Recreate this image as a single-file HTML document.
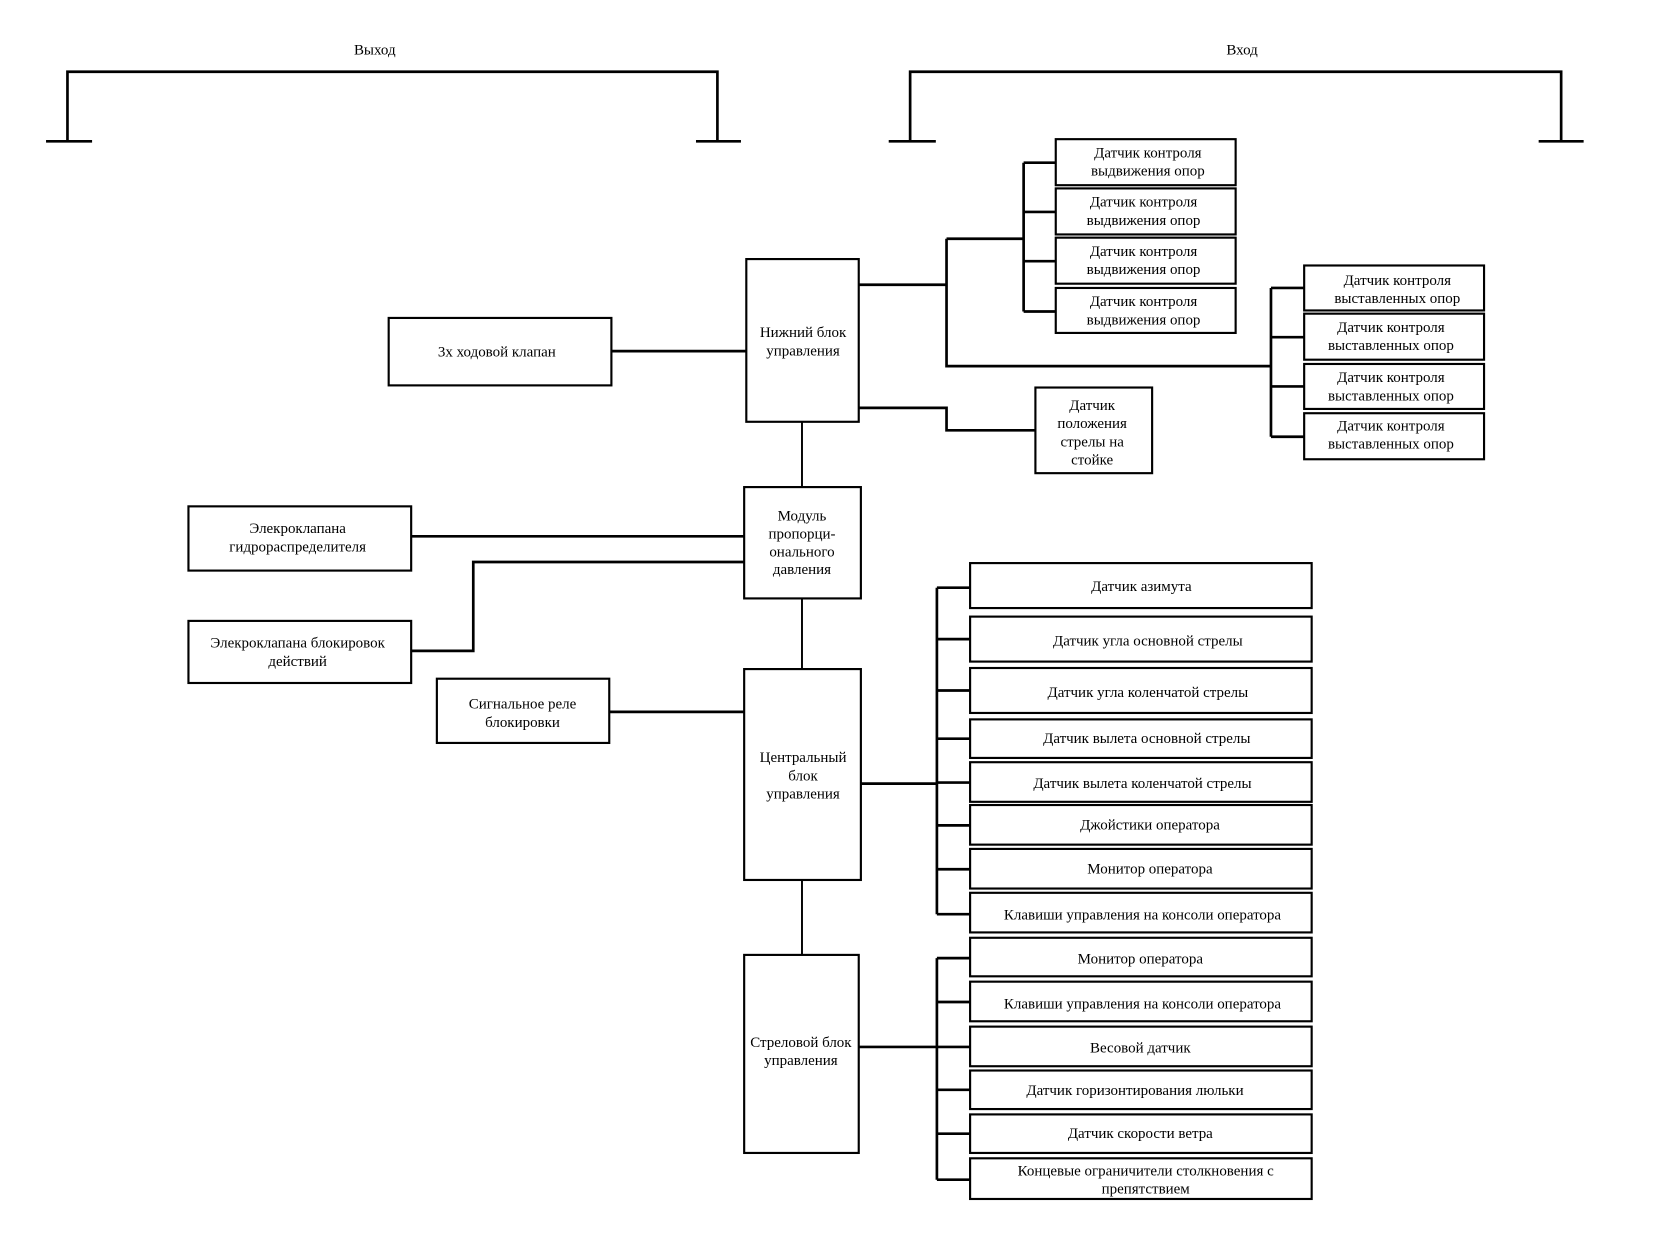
<!DOCTYPE html>
<html><head><meta charset="utf-8"><style>
html,body{margin:0;padding:0;background:#fff;}
svg{display:block;}
text{font-family:"Liberation Serif","Noto Serif CJK SC",serif;font-size:14px;fill:#000;text-anchor:middle;}
</style></head><body>
<svg width="1680" height="1260" viewBox="0 0 1569 1177" preserveAspectRatio="none" xmlns="http://www.w3.org/2000/svg">
<rect width="1569" height="1177" fill="#fff"/>
<g stroke="#000" fill="none" stroke-width="2.5">
<path d="M63 132 V67 H670 V132"/>
<path d="M43 132 H86 M650 132 H692"/>
<path d="M850 132 V67 H1458 V132"/>
<path d="M830 132 H874 M1437 132 H1479"/>
</g>
<text x="350" y="51">Выход</text>
<text x="1160" y="51">Вход</text>
<g stroke="#000" fill="#fff" stroke-width="2">
<rect x="986" y="130" width="168" height="43"/>
<rect x="986" y="176" width="168" height="43"/>
<rect x="986" y="222" width="168" height="43"/>
<rect x="986" y="269" width="168" height="42"/>
<rect x="1218" y="248" width="168" height="42"/>
<rect x="1218" y="293" width="168" height="43"/>
<rect x="1218" y="340" width="168" height="42"/>
<rect x="1218" y="386" width="168" height="43"/>
<rect x="967" y="362" width="109" height="80"/>
<rect x="697" y="242" width="105" height="152"/>
<rect x="363" y="297" width="208" height="63"/>
<rect x="695" y="455" width="109" height="104"/>
<rect x="176" y="473" width="208" height="60"/>
<rect x="176" y="580" width="208" height="58"/>
<rect x="408" y="634" width="161" height="60"/>
<rect x="695" y="625" width="109" height="197"/>
<rect x="695" y="892" width="107" height="185"/>
<rect x="906" y="526" width="319" height="42"/>
<rect x="906" y="576" width="319" height="42"/>
<rect x="906" y="624" width="319" height="42"/>
<rect x="906" y="672" width="319" height="36"/>
<rect x="906" y="712" width="319" height="37"/>
<rect x="906" y="752" width="319" height="37"/>
<rect x="906" y="793" width="319" height="37"/>
<rect x="906" y="834" width="319" height="37"/>
<rect x="906" y="876" width="319" height="36"/>
<rect x="906" y="917" width="319" height="37"/>
<rect x="906" y="959" width="319" height="37"/>
<rect x="906" y="1000" width="319" height="36"/>
<rect x="906" y="1041" width="319" height="36"/>
<rect x="906" y="1082" width="319" height="38"/>
</g>
<g stroke="#000" fill="none" stroke-width="2.5">
<path d="M956 152 V291 M956 152 H986 M956 198 H986 M956 244 H986 M956 291 H986"/>
<path d="M802 266 H884 M884 223 V342 H1187 M884 223 H956"/>
<path d="M1187 269 V408 M1187 269 H1218 M1187 315 H1218 M1187 361 H1218 M1187 408 H1218"/>
<path d="M802 381 H884 V402 H967"/>
<path d="M571 328 H697"/>
<path d="M384 501 H695"/>
<path d="M384 608 H442 V525 H695"/>
<path d="M569 665 H695"/>
<path d="M804 732 H875"/>
<path d="M802 978 H875"/>
<path d="M875 549 V854 M875 549 H906 M875 597 H906 M875 645 H906 M875 690 H906 M875 731 H906 M875 771 H906 M875 812 H906 M875 854 H906"/>
<path d="M875 895 V1102 M875 895 H906 M875 936 H906 M875 978 H906 M875 1018 H906 M875 1059 H906 M875 1102 H906"/>
</g>
<g stroke="#000" stroke-width="1.8">
<path d="M749 394 V455 M749 559 V625 M749 822 V892"/>
</g>
<text x="1072" y="147">Датчик контроля</text><text x="1072" y="164">выдвижения опор</text>
<text x="1068" y="193">Датчик контроля</text><text x="1068" y="210">выдвижения опор</text>
<text x="1068" y="239">Датчик контроля</text><text x="1068" y="256">выдвижения опор</text>
<text x="1068" y="286">Датчик контроля</text><text x="1068" y="303">выдвижения опор</text>
<text x="1305" y="266">Датчик контроля</text><text x="1305" y="283">выставленных опор</text>
<text x="1299" y="310">Датчик контроля</text><text x="1299" y="327">выставленных опор</text>
<text x="1299" y="357">Датчик контроля</text><text x="1299" y="374">выставленных опор</text>
<text x="1299" y="402">Датчик контроля</text><text x="1299" y="419">выставленных опор</text>
<text x="1020" y="383">Датчик</text><text x="1020" y="400">положения</text><text x="1020" y="417">стрелы на</text><text x="1020" y="434">стойке</text>
<text x="750" y="315">Нижний блок</text><text x="750" y="332">управления</text>
<text x="464" y="333">3х ходовой клапан</text>
<text x="749" y="486">Модуль</text><text x="749" y="503">пропорци-</text><text x="749" y="520">онального</text><text x="749" y="536">давления</text>
<text x="278" y="498">Элекроклапана</text><text x="278" y="515">гидрораспределителя</text>
<text x="278" y="605">Элекроклапана блокировок</text><text x="278" y="622">действий</text>
<text x="488" y="662">Сигнальное реле</text><text x="488" y="679">блокировки</text>
<text x="750" y="712">Центральный</text><text x="750" y="729">блок</text><text x="750" y="746">управления</text>
<text x="748" y="978">Стреловой блок</text><text x="748" y="995">управления</text>
<text x="1066" y="552">Датчик азимута</text>
<text x="1072" y="603">Датчик угла основной стрелы</text>
<text x="1072" y="651">Датчик угла коленчатой стрелы</text>
<text x="1071" y="694">Датчик вылета основной стрелы</text>
<text x="1067" y="736">Датчик вылета коленчатой стрелы</text>
<text x="1074" y="775">Джойстики оператора</text>
<text x="1074" y="816">Монитор оператора</text>
<text x="1067" y="859">Клавиши управления на консоли оператора</text>
<text x="1065" y="900">Монитор оператора</text>
<text x="1067" y="942">Клавиши управления на консоли оператора</text>
<text x="1065" y="983">Весовой датчик</text>
<text x="1060" y="1023">Датчик горизонтирования люльки</text>
<text x="1065" y="1063">Датчик скорости ветра</text>
<text x="1070" y="1098">Концевые ограничители столкновения с</text><text x="1070" y="1115">препятствием</text>
</svg>
</body></html>
